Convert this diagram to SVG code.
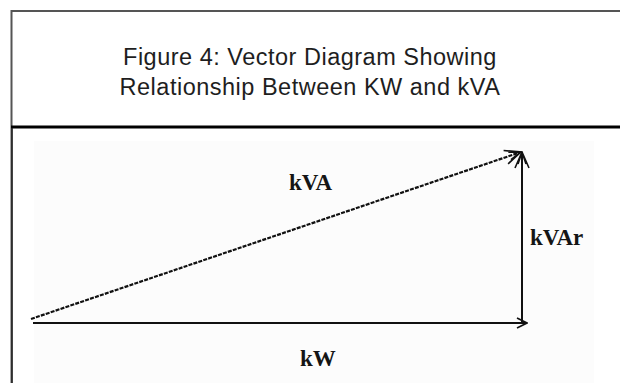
<svg xmlns="http://www.w3.org/2000/svg" width="620" height="383" viewBox="0 0 620 383">
<defs>
<style>
.title{font-family:"Liberation Sans","DejaVu Sans",sans-serif;font-size:23.5px;fill:#1e1e1e;text-anchor:middle;letter-spacing:0.5px}
.lbl{font-family:"Liberation Serif","Times New Roman",serif;font-size:23px;font-weight:bold;fill:#151515}
.vec{stroke:#111;stroke-width:2;fill:none}
.dash{stroke-dasharray:4 1.2;stroke-width:2.2}
</style>
<marker id="ah" viewBox="0 0 12 12" refX="11" refY="6" markerWidth="12" markerHeight="12" markerUnits="userSpaceOnUse" orient="auto">
<path d="M1,1 L11,6 L1,11" fill="none" stroke="#111" stroke-width="1.6"/>
</marker>
<marker id="ahb" viewBox="0 0 18 18" refX="17" refY="9" markerWidth="18" markerHeight="18" markerUnits="userSpaceOnUse" orient="auto">
<path d="M1,2 L17,9 L1,16 M5,5 L17,9 L5,13" fill="none" stroke="#111" stroke-width="1.6"/>
</marker>
</defs>
<rect width="620" height="383" fill="#fff"/>
<g id="frame">
<path d="M11.5,383 V11 H620" fill="none" stroke="#555" stroke-width="2"/>
<line x1="11" y1="127" x2="620" y2="127" stroke="#000" stroke-width="3"/>
<line x1="12" y1="128" x2="12" y2="383" stroke="#222" stroke-width="1.5"/>
<rect x="34" y="141" width="560" height="242" fill="#fcfcfc"/>
</g>
<g id="title">
<text class="title" x="310" y="65">Figure 4: Vector Diagram Showing</text>
<text class="title" x="310" y="95">Relationship Between KW and kVA</text>
</g>
<g id="connectors">
<line class="vec" x1="33" y1="323" x2="527" y2="323" marker-end="url(#ah)"/>
<line class="vec" x1="522" y1="323" x2="522" y2="152" marker-end="url(#ahb)"/>
<line class="vec dash" x1="31" y1="319" x2="521" y2="152" marker-end="url(#ahb)"/>
</g>
<g id="label-kVA"><text class="lbl" x="289" y="190">kVA</text></g>
<g id="label-kVAr"><text class="lbl" x="530" y="245">kVAr</text></g>
<g id="label-kW"><text class="lbl" x="300" y="366">kW</text></g>
</svg>
